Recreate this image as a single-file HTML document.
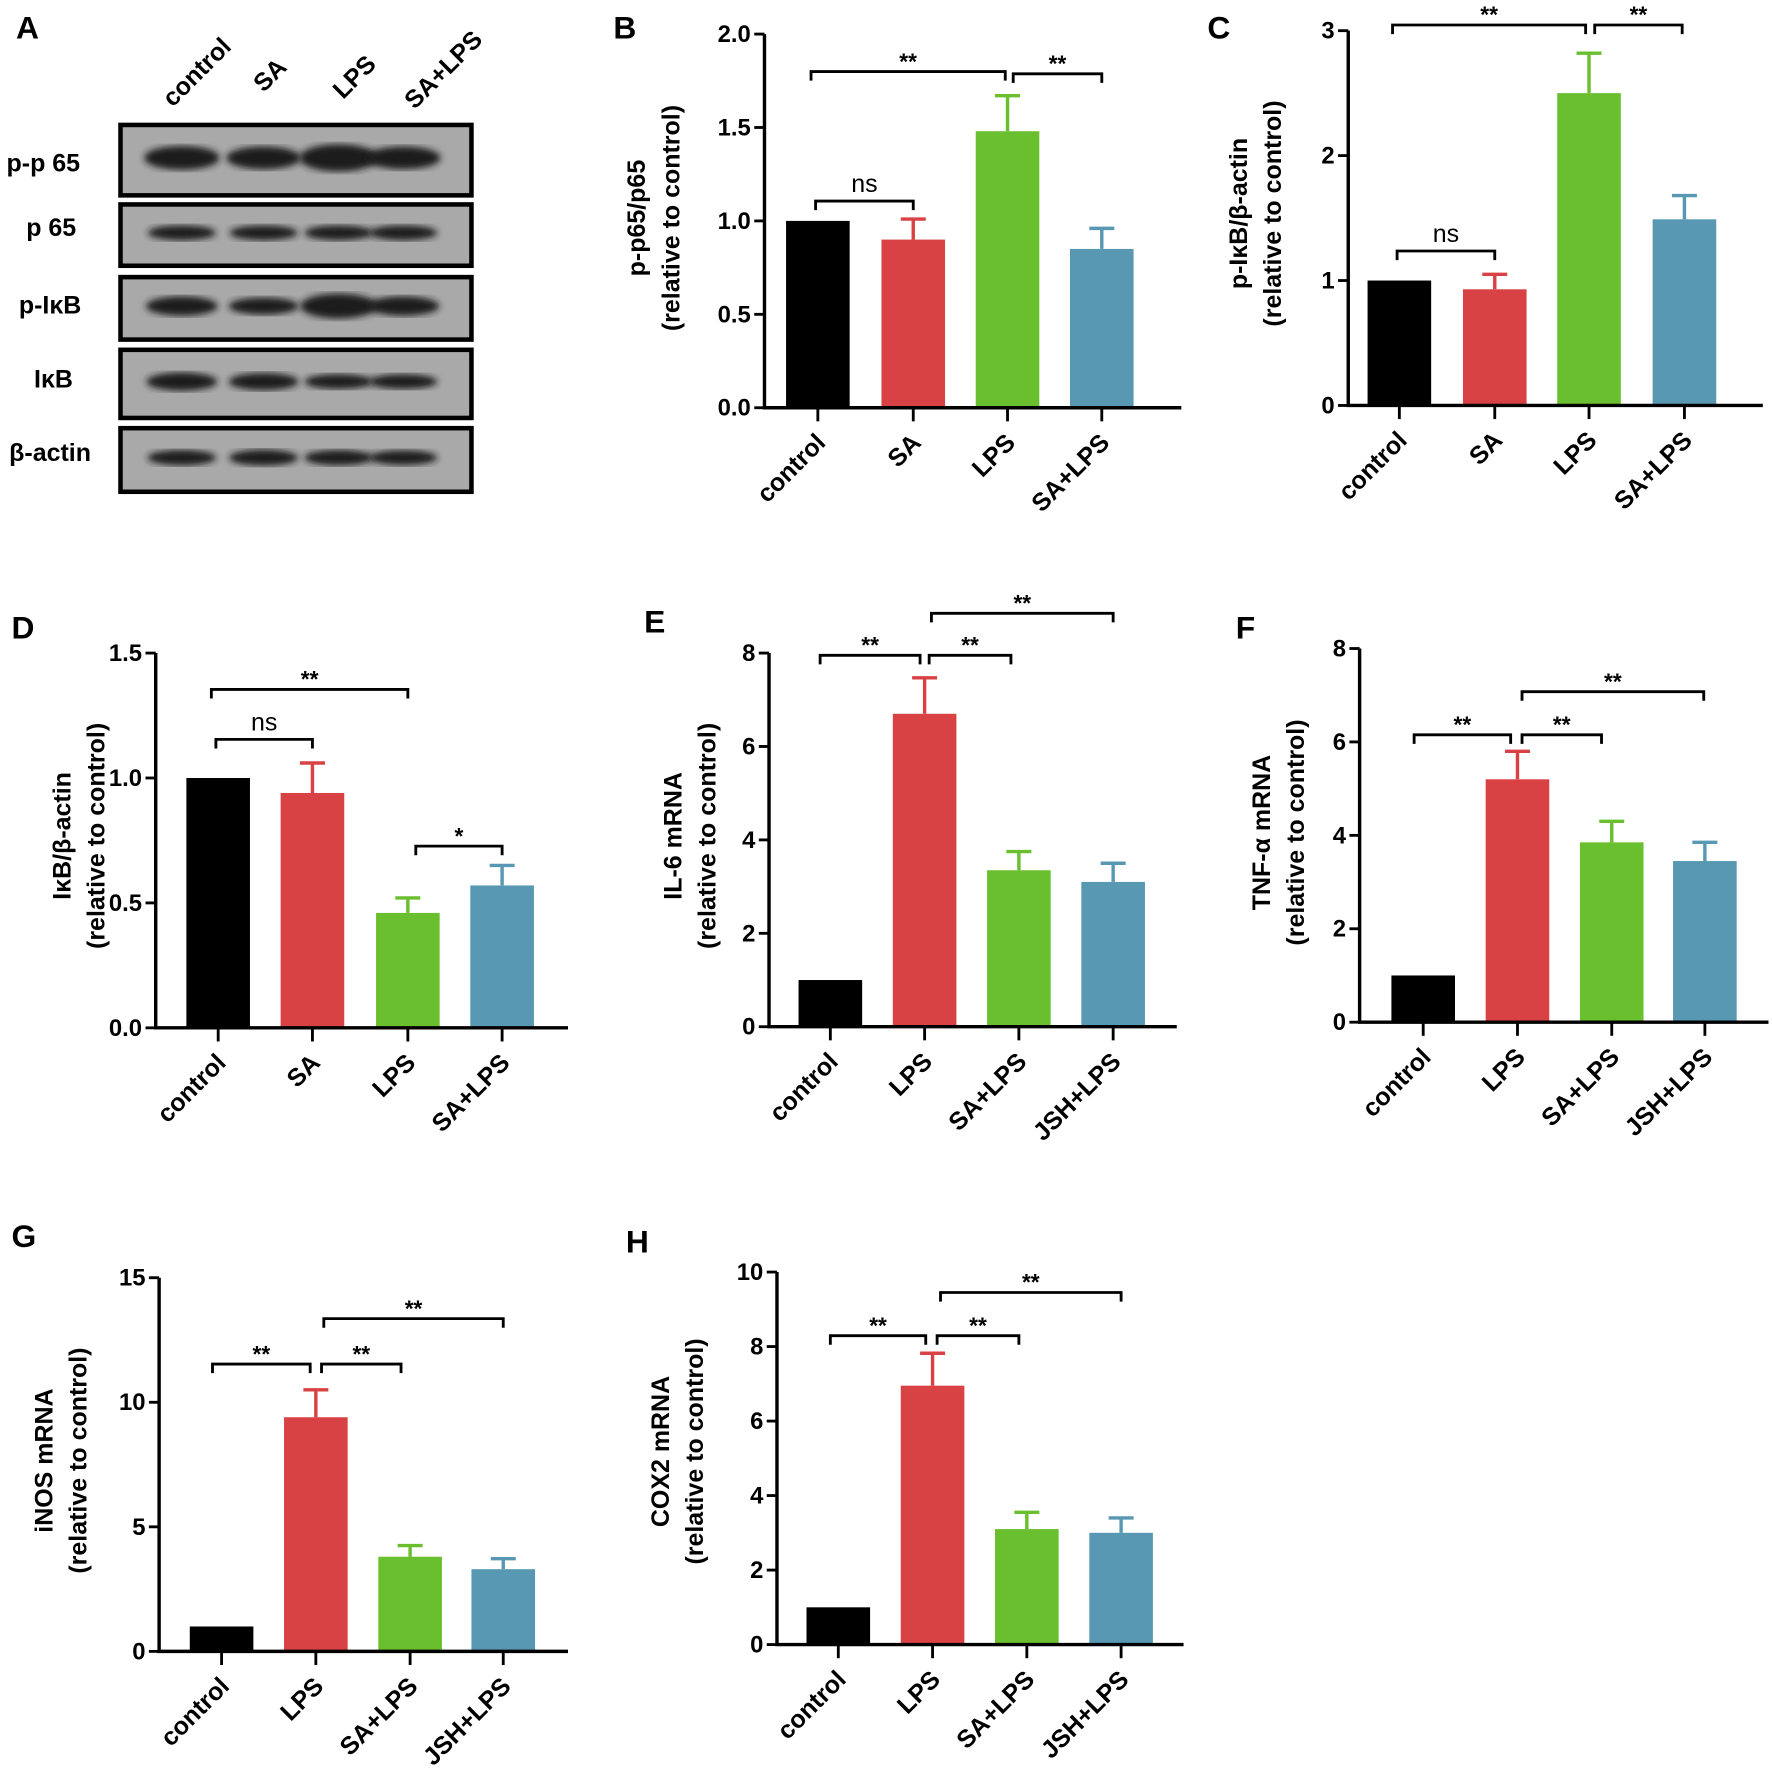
<!DOCTYPE html>
<html><head><meta charset="utf-8"><style>
html,body{margin:0;padding:0;background:#fff;}
svg{display:block;font-family:"Liberation Sans",Arial,sans-serif;}
</style></head><body>
<svg id="fig" width="1772" height="1782" viewBox="0 0 1560 1569" xmlns="http://www.w3.org/2000/svg">
<defs><filter id="blur"><feGaussianBlur stdDeviation="3"/></filter></defs>
<g id="panelA">
<text x="14" y="34" font-size="28" font-weight="bold">A</text>
<g font-size="22" font-weight="bold">
<text transform="translate(152,95) rotate(-45)">control</text>
<text transform="translate(232,82) rotate(-45)">SA</text>
<text transform="translate(302,88) rotate(-45)">LPS</text>
<text transform="translate(365,97) rotate(-45)">SA+LPS</text>
</g>
<g font-size="22" font-weight="bold" text-anchor="middle">
<text x="38" y="151">p-p 65</text>
<text x="45" y="208">p 65</text>
<text x="44" y="276">p-IκB</text>
<text x="47" y="341">IκB</text>
<text x="44" y="406">β-actin</text>
</g>
<g id="blots"></g>
</g>
<g id="charts"></g>
</svg>
<script>
const NS="http://www.w3.org/2000/svg";
const COLORS=["#000000","#d94244","#6abf2e","#5898b2"];
// Panel B
const catsB=["control","SA","LPS","SA+LPS"];
const valsB=[1.0,0.9,1.48,0.85];
const errB=[0,0.11,0.19,0.11];
const ticksB=["0.0","0.5","1.0","1.5","2.0"];
// Panel C
const catsC=["control","SA","LPS","SA+LPS"];
const valsC=[1.0,0.93,2.5,1.49];
const errC=[0,0.12,0.32,0.19];
const ticksC=["0","1","2","3"];
// Panel D
const catsD=["control","SA","LPS","SA+LPS"];
const valsD=[1.0,0.94,0.46,0.57];
const errD=[0,0.12,0.06,0.08];
const ticksD=["0.0","0.5","1.0","1.5"];
// Panel E
const catsE=["control","LPS","SA+LPS","JSH+LPS"];
const valsE=[1.0,6.7,3.35,3.1];
const errE=[0,0.77,0.4,0.4];
const ticksE=["0","2","4","6","8"];
// Panel F
const catsF=["control","LPS","SA+LPS","JSH+LPS"];
const valsF=[1.0,5.2,3.85,3.45];
const errF=[0,0.6,0.45,0.4];
const ticksF=["0","2","4","6","8"];
// Panel G
const catsG=["control","LPS","SA+LPS","JSH+LPS"];
const valsG=[1.0,9.4,3.8,3.3];
const errG=[0,1.1,0.45,0.42];
const ticksG=["0","5","10","15"];
// Panel H
const catsH=["control","LPS","SA+LPS","JSH+LPS"];
const valsH=[1.0,6.95,3.1,3.0];
const errH=[0,0.87,0.45,0.4];
const ticksH=["0","2","4","6","8","10"];

function el(tag,attrs,parent,text){const e=document.createElementNS(NS,tag);for(const k in attrs)e.setAttribute(k,attrs[k]);if(text!==undefined)e.textContent=text;parent.appendChild(e);return e;}

// blots
const blots=document.getElementById('blots');
const boxes=[[110,172,[1.3,1.2,1.6,1.2]],[180,234,[0.5,0.5,0.5,0.5]],[244,299,[0.9,0.7,1.4,0.9]],[308,368,[0.8,0.7,0.5,0.5]],[377,433,[0.55,0.6,0.55,0.5]]];
const laneX=[160,232,298,355];
boxes.forEach((b,i)=>{
  const r=el('rect',{x:106,y:b[0],width:309,height:b[1]-b[0],fill:"#a9a9a9",stroke:"#000","stroke-width":4},blots);
  
  
  const cy=(b[0]+b[1])/2-2;
  b[2].forEach((s,j)=>{
    const band=el('ellipse',{cx:laneX[j],cy:cy,rx:28+s*4,ry:4+s*5,fill:"#1a1a1a",filter:"url(#blur)"},blots);
    
    
  });
});

function panel(cfg){
  const g=el('g',{},document.getElementById('charts'));
  
  
  const {ax,y0,y1,x1,max,ticks,cats,vals,errs,centers}=cfg;
  const ys=v=>y0-(v/max)*(y0-y1);
  const lab=el('text',{x:cfg.lx,y:cfg.ly,"font-size":28,"font-weight":"bold"},g,cfg.id.toUpperCase());
  
  
  cats.forEach((c,i)=>{
    const cx=centers[i],v=vals[i],e=errs[i];
    if(e>0){
      const eb=el('path',{d:`M${cx} ${ys(v)}V${ys(v+e)}M${cx-11} ${ys(v+e)}H${cx+11}`,stroke:COLORS[i],"stroke-width":3,fill:"none"},g);
      
      
    }
    const r=el('rect',{x:cx-28,y:ys(v),width:56,height:y0-ys(v),fill:COLORS[i]},g);
    
    
    const tk=el('line',{x1:cx,x2:cx,y1:y0,y2:y0+12,stroke:"#000","stroke-width":2.5},g);
    
    
    const t=el('text',{transform:`translate(${cx+8},${y0+32}) rotate(-45)`,"text-anchor":"end","font-size":22,"font-weight":"bold"},g,c);
    
    
  });
  const axes=el('path',{d:`M${ax} ${y1}V${y0}H${x1}`,stroke:"#000","stroke-width":3,fill:"none"},g);
  
  
  ticks.forEach(t=>{
    const y=ys(parseFloat(t));
    const l=el('line',{x1:ax-9,x2:ax,y1:y,y2:y,stroke:"#000","stroke-width":2.5},g);
    
    
    const tt=el('text',{x:ax-12,y:y+7,"text-anchor":"end","font-size":21,"font-weight":"bold"},g,t);
    
    
  });
  const yl=el('text',{transform:`translate(${cfg.ylx},${cfg.yly}) rotate(-90)`,"text-anchor":"middle","font-size":22,"font-weight":"bold"},g);
  
  
  el('tspan',{x:0,dy:0},yl,cfg.ytitle);
  el('tspan',{x:0,dy:30},yl,"(relative to control)");
  cfg.brackets.forEach(b=>{
    const p=el('path',{d:`M${b[0]} ${b[2]+8}V${b[2]}H${b[1]}V${b[2]+8}`,stroke:"#000","stroke-width":2.5,fill:"none"},g);
    
    
    const s=el('text',{x:(b[0]+b[1])/2,y:b[2]-(b[3]==="ns"?8:2),"text-anchor":"middle","font-size":b[3]==="ns"?22:20,"font-weight":b[3]==="ns"?"normal":"bold"},g,b[3]);
    
    
  });
}
panel({id:"b",lx:540,ly:34,ax:673,y0:359,y1:30,x1:1040,max:2.0,ticks:ticksB,cats:catsB,vals:valsB,errs:errB,centers:[720,804,887,970],ylx:568,yly:192,ytitle:"p-p65/p65",
 brackets:[[718,804,177,"ns"],[714,885,63,"**"],[892,970,65,"**"]]});
panel({id:"c",lx:1063,ly:34,ax:1187,y0:357,y1:27,x1:1552,max:3,ticks:ticksC,cats:catsC,vals:valsC,errs:errC,centers:[1232,1316,1399,1483],ylx:1098,yly:188,ytitle:"p-IκB/β-actin",
 brackets:[[1230,1316,221,"ns"],[1226,1396,22,"**"],[1404,1481,22,"**"]]});
panel({id:"d",lx:10,ly:562,ax:137,y0:905,y1:575,x1:500,max:1.5,ticks:ticksD,cats:catsD,vals:valsD,errs:errD,centers:[192,275,359,442],ylx:62,yly:736,ytitle:"IκB/β-actin",
 brackets:[[190,275,651,"ns"],[186,359,607,"**"],[366,442,745,"*"]]});
panel({id:"e",lx:567,ly:557,ax:677,y0:904,y1:575,x1:1036,max:8,ticks:ticksE,cats:catsE,vals:valsE,errs:errE,centers:[731,814,897,980],ylx:600,yly:736,ytitle:"IL-6 mRNA",
 brackets:[[722,810,577,"**"],[818,890,577,"**"],[820,980,540,"**"]]});
panel({id:"f",lx:1088,ly:562,ax:1197,y0:900,y1:571,x1:1557,max:8,ticks:ticksF,cats:catsF,vals:valsF,errs:errF,centers:[1253,1336,1419,1501],ylx:1118,yly:733,ytitle:"TNF-α mRNA",
 brackets:[[1245,1330,647,"**"],[1340,1410,647,"**"],[1340,1500,609,"**"]]});
panel({id:"g",lx:10,ly:1098,ax:140,y0:1454,y1:1125,x1:500,max:15,ticks:ticksG,cats:catsG,vals:valsG,errs:errG,centers:[195,278,361,443],ylx:46,yly:1286,ytitle:"iNOS mRNA",
 brackets:[[187,273,1201,"**"],[283,353,1201,"**"],[285,443,1161,"**"]]});
panel({id:"h",lx:551,ly:1103,ax:684,y0:1448,y1:1120,x1:1042,max:10,ticks:ticksH,cats:catsH,vals:valsH,errs:errH,centers:[738,821,904,987],ylx:589,yly:1278,ytitle:"COX2 mRNA",
 brackets:[[731,815,1176,"**"],[825,897,1176,"**"],[828,987,1138,"**"]]});
</script>
</body></html>
